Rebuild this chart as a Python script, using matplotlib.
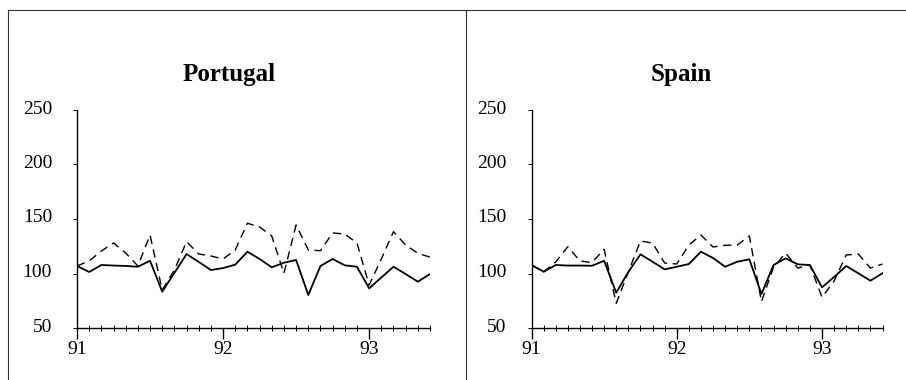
import matplotlib
matplotlib.use("Agg")
import matplotlib.pyplot as plt
from matplotlib.lines import Line2D
from matplotlib.ticker import FixedLocator
import matplotlib.transforms as mtransforms

plt.rcParams['font.family'] = ['Liberation Serif', 'DejaVu Serif']

# Monthly data, Jan 1991 .. Jun 1993 (30 months)
months = list(range(30))
portugal_solid = [106.9, 101.4, 107.8, 107.3, 106.9, 106.2, 111.7, 83.3, 100.5, 117.9,
                  110.6, 103.2, 105.0, 108.1, 120.0, 113.3, 105.7, 109.9, 112.4, 80.3,
                  106.9, 113.3, 107.5, 106.2, 86.4, 96.3, 106.2, 99.5, 92.5, 99.5]
portugal_dashed = [106.9, 111.5, 120.6, 128.0, 118.8, 106.9, 135.3, 84.9, 103.2, 129.2,
                   117.9, 116.1, 113.3, 121.6, 146.1, 142.7, 134.4, 100.2, 144.5, 121.6,
                   120.9, 137.2, 136.2, 128.0, 89.4, 113.3, 138.4, 126.1, 118.6, 115.0]
spain_solid = [107.8, 101.7, 107.8, 107.3, 107.3, 107.1, 111.7, 82.4, 101.4, 117.6,
               110.8, 103.8, 106.2, 108.7, 120.0, 114.2, 106.2, 110.8, 113.0, 81.2,
               107.8, 113.9, 108.4, 107.8, 87.3, 96.8, 106.9, 100.2, 93.4, 100.2]
spain_dashed = [107.8, 101.4, 110.6, 124.6, 111.5, 110.0, 122.2, 72.7, 101.4, 129.8,
                128.0, 109.6, 108.7, 126.1, 135.3, 124.3, 125.9, 126.1, 134.4, 74.1,
                106.0, 118.7, 105.0, 107.8, 78.2, 93.1, 117.0, 117.9, 105.0, 108.7]

titles = ["Portugal", "Spain"]
year_ticks = [91, 92, 93]
year_labels = ["91", "92", "93"]
y_ticks = [50, 100, 150, 200, 250]

W, H = 906, 380
fig = plt.figure(figsize=(W / 100, H / 100), dpi=100)
fig.patch.set_facecolor("white")

def fx(px):
    return px / W

def fy(py):
    return 1 - py / H

panels = [
    (77, 430, titles[0], portugal_solid, portugal_dashed, 229),
    (531.5, 882.5, titles[1], spain_solid, spain_dashed, 681),
]

x_vals = [91 + m / 12 for m in months]

for left, right, title, solid, dashed, tx in panels:
    ax = fig.add_axes([fx(left), fy(328), fx(right - left), (328 - 110) / H])
    ax.plot(x_vals, dashed, color="black", lw=1.0, dashes=(6, 4))
    ax.plot(x_vals, solid, color="black", lw=1.3)
    ax.set_xlim(91, 91 + 29 / 12)
    ax.set_ylim(50, 250)
    for s in ["top", "right"]:
        ax.spines[s].set_visible(False)
    for s in ["left", "bottom"]:
        ax.spines[s].set_linewidth(1.0)
    ax.xaxis.set_major_locator(FixedLocator(year_ticks))
    ax.set_xticklabels(year_labels)
    ax.xaxis.set_minor_locator(FixedLocator(x_vals))
    ax.yaxis.set_major_locator(FixedLocator(y_ticks))
    ax.set_yticklabels([str(v) for v in y_ticks])
    ax.tick_params(axis="x", which="major", direction="out", length=8, width=1.0,
                   labelsize=14, pad=1)
    ax.tick_params(axis="x", which="minor", direction="inout", length=4, width=0.7)
    ax.tick_params(axis="y", which="major", direction="out", length=3, width=0.7,
                   labelsize=14, pad=15)
    offset = mtransforms.ScaledTranslation(0, 3 / 100, fig.dpi_scale_trans)
    for lab in ax.get_yticklabels():
        lab.set_transform(lab.get_transform() + offset)
    fig.text(fx(tx), fy(75), title, ha="center", va="center",
             fontsize=18, fontweight="bold")

# outer frame lines
frame_color = "#333333"
fig.add_artist(Line2D([fx(8), 1], [fy(10), fy(10)], color=frame_color, lw=0.8))
fig.add_artist(Line2D([fx(8), fx(8)], [fy(10), 0], color=frame_color, lw=0.8))
fig.add_artist(Line2D([fx(466), fx(466)], [fy(10), 0], color=frame_color, lw=0.8))

fig.savefig("out.png", dpi=100, facecolor="white")
